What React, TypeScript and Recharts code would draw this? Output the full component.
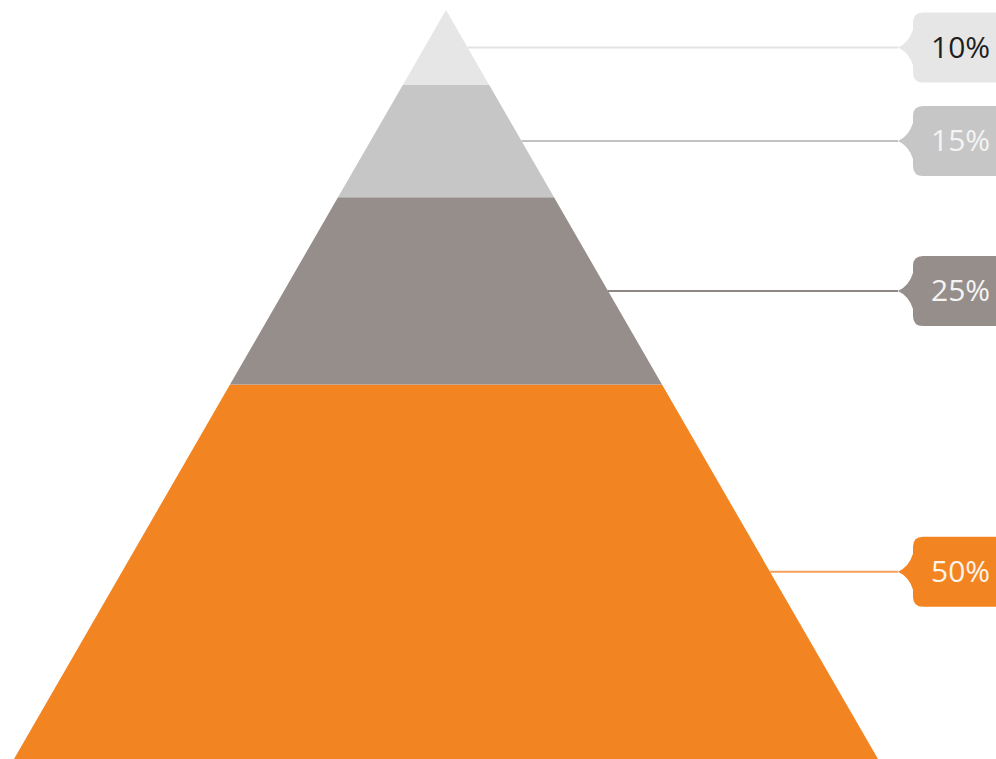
import React from 'react';
import { BarChart, Bar, XAxis, YAxis } from 'recharts';

const categories = ['pyramid'];
const levelLabels = ['10%', '15%', '25%', '50%'];
const levelValues = [10, 15, 25, 50];
const levelKeys = ['v10', 'v15', 'v25', 'v50'];
const levelColors = ['#e6e6e6', '#c6c6c6', '#968e8a', '#f38422'];
const lineColors = ['#e3e3e3', '#c2c2c2', '#8f8784', '#f5a05a'];
const textColors = ['#1e1e1e', '#f4f4f4', '#f4f4f4', '#fbf3ea'];

const W = 996;
const H = 759;
const MARGIN = { top: 10, right: 118, bottom: 0, left: 14 };

const data = categories.map((name) => {
  const row: Record<string, any> = { name };
  levelKeys.forEach((k, i) => {
    row[k] = levelValues[i];
  });
  return row;
});

const makeShape = (idx: number) => (props: any) => {
  const { x, y, width, height } = props;
  const top = MARGIN.top;
  const bottom = H - MARGIN.bottom;
  const cx = x + width / 2;
  const half = width / 2;
  const hw = (yy: number) => (half * (yy - top)) / (bottom - top);
  const y2 = y + height;
  const pts = [
    [cx - hw(y), y],
    [cx + hw(y), y],
    [cx + hw(y2), y2],
    [cx - hw(y2), y2],
  ]
    .map((p) => p.join(','))
    .join(' ');
  const cy = y + height / 2;
  const lx = cx + hw(cy);
  const tip = x + width + 20;
  const bx = tip + 15;
  const bh = 35;
  const r = 10;
  const right = W + 20;
  const callout = `M ${tip} ${cy} Q ${bx - 4} ${cy - 5} ${bx} ${cy - 18} L ${bx} ${cy - bh + r} Q ${bx} ${cy - bh} ${bx + r} ${cy - bh} L ${right} ${cy - bh} L ${right} ${cy + bh} L ${bx + r} ${cy + bh} Q ${bx} ${cy + bh} ${bx} ${cy + bh - r} L ${bx} ${cy + 18} Q ${bx - 4} ${cy + 5} ${tip} ${cy} Z`;
  return (
    <g>
      <polygon points={pts} fill={levelColors[idx]} />
      <line x1={lx} y1={cy} x2={tip} y2={cy} stroke={lineColors[idx]} strokeWidth={2} />
      <path d={callout} fill={levelColors[idx]} />
      <text
        x={bx + 18}
        y={cy}
        dy="0.34em"
        fill={textColors[idx]}
        fontSize={30}
        fontFamily="'Open Sans', Arial, sans-serif"
      >
        {levelLabels[idx]}
      </text>
    </g>
  );
};

const stackOrder = [3, 2, 1, 0];

export default function App() {
  return (
    <div style={{ position: 'absolute', left: 0, top: 0, width: W, height: H, background: '#fff' }}>
      <BarChart width={W} height={H} data={data} margin={MARGIN} barCategoryGap={0}>
        <XAxis dataKey="name" hide />
        <YAxis hide domain={[0, 100]} />
        {stackOrder.map((i) => (
          <Bar
            key={levelKeys[i]}
            dataKey={levelKeys[i]}
            stackId="p"
            fill={levelColors[i]}
            shape={makeShape(i)}
            isAnimationActive={false}
          />
        ))}
      </BarChart>
    </div>
  );
}
